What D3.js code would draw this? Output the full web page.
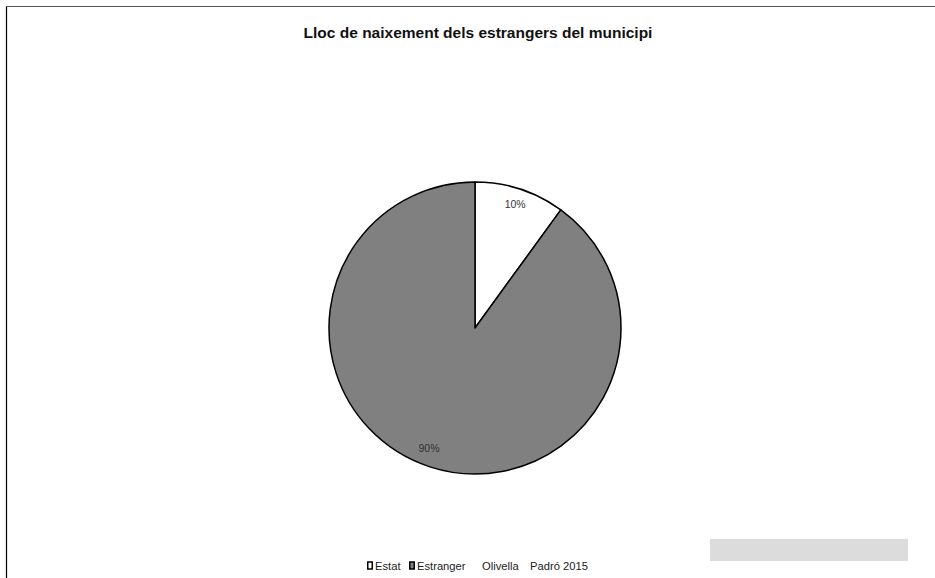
<!DOCTYPE html>
<html>
<head>
<meta charset="utf-8">
<script src="https://cdn.jsdelivr.net/npm/d3@7"></script>
<style>
  html, body { margin: 0; padding: 0; background: #fff; }
  svg { display: block; font-family: "Liberation Sans", Arial, sans-serif; }
</style>
</head>
<body>
<svg id="chart" width="935" height="578"></svg>
<script>
const title = "Lloc de naixement dels estrangers del municipi";
const categories = ["Estat", "Estranger"];
const values = [10, 90];
const colors = ["#ffffff", "#808080"];
const labelAngles = [18, 201];       // degrees, where the labels sit
const labelRadii = [0.89, 0.88];     // fraction of radius
const footer = ["Olivella", "Padró 2015"];

const svg = d3.select("#chart");
const W = 935, H = 578;

// frame
svg.append("line").attr("x1", 6.5).attr("x2", W).attr("y1", 6.5).attr("y2", 6.5)
  .attr("stroke", "#555").attr("stroke-width", 1.2);
svg.append("line").attr("x1", 6.5).attr("x2", 6.5).attr("y1", 6.5).attr("y2", H)
  .attr("stroke", "#000").attr("stroke-width", 1.2);

svg.append("text").attr("x", 478).attr("y", 38).attr("text-anchor", "middle")
  .attr("font-weight", "bold").attr("font-size", 15.5).attr("fill", "#111").text(title);

const cx = 475, cy = 328, r = 146;
const pie = d3.pie().sort(null).value(d => d);
const arcs = pie(values);
const arc = d3.arc().innerRadius(0).outerRadius(r);
const g = svg.append("g").attr("transform", `translate(${cx},${cy})`);
g.selectAll("path").data(arcs).join("path")
  .attr("d", arc).attr("fill", (d, i) => colors[i])
  .attr("stroke", "#000").attr("stroke-width", 1.5).attr("stroke-linejoin", "round");

const total = d3.sum(values);
g.selectAll("text.lbl").data(arcs).join("text").attr("class", "lbl")
  .attr("x", (d, i) => Math.sin(labelAngles[i] * Math.PI / 180) * r * labelRadii[i])
  .attr("y", (d, i) => -Math.cos(labelAngles[i] * Math.PI / 180) * r * labelRadii[i])
  .attr("dy", "0.35em").attr("text-anchor", "middle").attr("font-size", 10.5).attr("fill", "#333")
  .text(d => Math.round(d.value / total * 100) + "%");

// grey box
svg.append("rect").attr("x", 710).attr("y", 539).attr("width", 198).attr("height", 22).attr("fill", "#dcdcdc");

// legend
const ly = 566;
const leg = svg.append("g").attr("font-size", 11.2).attr("fill", "#222");
const legX = [367, 409];
categories.forEach((c, i) => {
  leg.append("rect").attr("x", legX[i] + 0.75).attr("y", ly - 4).attr("width", 4.5).attr("height", 7)
    .attr("fill", colors[i]).attr("stroke", "#000").attr("stroke-width", 1.5);
  leg.append("text").attr("x", legX[i] + 8).attr("y", ly).attr("dy", "0.35em").text(c);
});
leg.append("text").attr("x", 482).attr("y", ly).attr("dy", "0.35em").text(footer[0]);
leg.append("text").attr("x", 530).attr("y", ly).attr("dy", "0.35em").text(footer[1]);
</script>
</body>
</html>
